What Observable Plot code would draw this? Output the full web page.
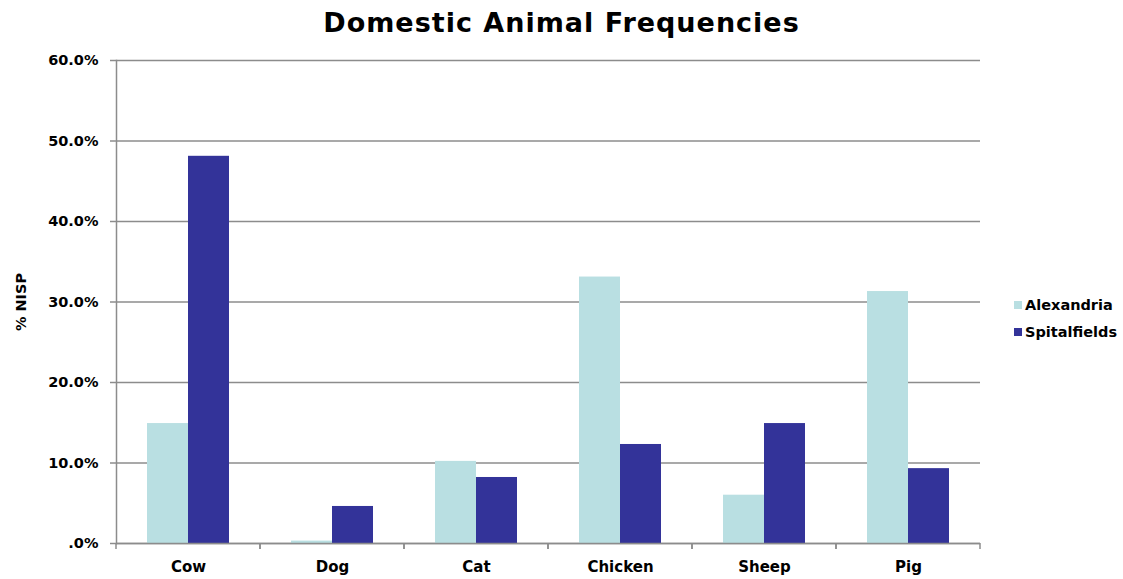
<!DOCTYPE html>
<html>
<head>
<meta charset="utf-8">
<script src="https://cdn.jsdelivr.net/npm/d3@7"></script>
<script src="https://cdn.jsdelivr.net/npm/@observablehq/plot@0.6"></script>
<style>
  html, body { margin: 0; padding: 0; background: #ffffff; }
  #wrap { position: relative; width: 1123px; height: 579px; overflow: hidden; font-family: "DejaVu Sans", sans-serif; }
  #title { position: absolute; left: 0; top: 9px; width: 1123px; text-align: center; font-size: 27px; line-height: 27px; font-weight: bold; letter-spacing: 1px; color: #000; }
  #chart { position: absolute; left: 0; top: 45px; }
  #legend { position: absolute; left: 1014px; top: 291px; font-size: 14.5px; font-weight: bold; color: #000; }
  #legend .row { display: flex; align-items: center; height: 27px; line-height: 18px; }
  #legend .sw { width: 8px; height: 8px; margin-right: 3px; }
</style>
</head>
<body>
<div id="wrap">
  <div id="title">Domestic Animal Frequencies</div>
  <div id="chart"></div>
  <div id="legend"></div>
</div>
<script>
// ---- data ----
const categories = ["Cow", "Dog", "Cat", "Chicken", "Sheep", "Pig"];
const series = ["Alexandria", "Spitalfields"];
const alexandria = [14.9, 0.3, 10.2, 33.1, 6.0, 31.3];
const spitalfields = [48.1, 4.6, 8.2, 12.3, 14.9, 9.3];
const yTicks = [0, 10, 20, 30, 40, 50, 60];
const seriesColors = ["#b9dfe2", "#333399"];

const GRID = "#8c8c8c";
const seriesValues = [alexandria, spitalfields];
const table = [];
categories.forEach((c, i) => {
  series.forEach((s, j) => table.push({category: c, series: s, value: seriesValues[j][i]}));
});

const fmt = d => d.toFixed(1).replace(/^0/, "") + "%";

// category boundary tick marks drawn at each facet's edges
const boundaryTicks = Plot.ruleY([0], {
  render(index, scales, values, dimensions) {
    const {marginLeft, marginRight, width, height, marginBottom} = dimensions;
    const y0 = height - marginBottom;
    const g = d3.create("svg:g").attr("stroke", GRID).attr("stroke-width", 1.5);
    for (const x of [marginLeft, width - marginRight]) {
      g.append("line").attr("x1", x).attr("x2", x).attr("y1", y0).attr("y2", y0 + 6);
    }
    return g.node();
  }
});

const chart = Plot.plot({
  width: 1123,
  height: 534,
  marginTop: 15,
  marginBottom: 36,
  marginLeft: 114,
  marginRight: 141,
  style: {fontFamily: "DejaVu Sans, sans-serif", fontWeight: "bold", fontSize: "14px", color: "#000", background: "#fff"},
  fx: {domain: categories, padding: 0, label: null},
  x: {domain: series, paddingInner: 0, paddingOuter: 0.72, axis: null},
  y: {domain: [0, 60], label: null},
  color: {domain: series, range: seriesColors},
  marks: [
    Plot.gridY(yTicks, {stroke: GRID, strokeOpacity: 1, strokeWidth: 1.5}),
    Plot.barY(table, {fx: "category", x: "series", y: "value", fill: "series"}),
    Plot.ruleY([0], {stroke: GRID, strokeWidth: 1.5}),
    boundaryTicks,
    Plot.frame({anchor: "left", facetAnchor: "left", stroke: GRID, strokeWidth: 1.5}),
    Plot.axisY(yTicks, {
      tickSize: 6, tickPadding: 12, tickFormat: fmt, stroke: GRID, strokeWidth: 1.5,
      fontSize: 14.5, fontWeight: "bold",
      label: "% NISP", labelAnchor: "center", labelArrow: "none", labelOffset: 101
    }),
    Plot.axisFx({anchor: "bottom", tickSize: 0, tickPadding: 18, fontSize: 15, fontWeight: "bold", label: null})
  ]
});
document.getElementById("chart").appendChild(chart);

// legend
const legend = document.getElementById("legend");
series.forEach((s, i) => {
  const row = document.createElement("div");
  row.className = "row";
  const sw = document.createElement("span");
  sw.className = "sw";
  sw.style.background = seriesColors[i];
  const t = document.createElement("span");
  t.textContent = s;
  row.appendChild(sw);
  row.appendChild(t);
  legend.appendChild(row);
});
</script>
</body>
</html>
